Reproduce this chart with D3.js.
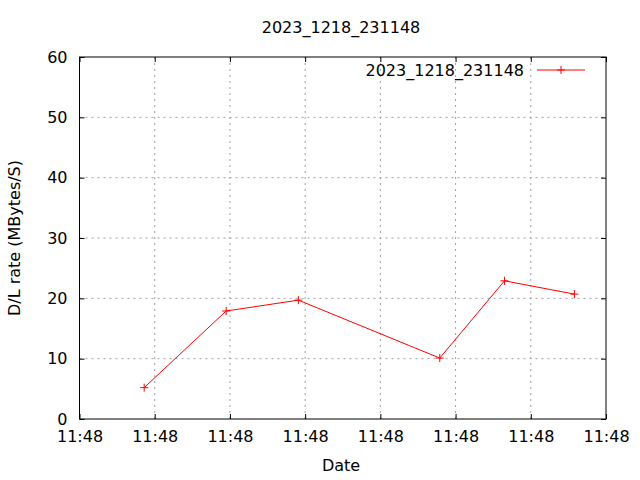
<!DOCTYPE html>
<html><head><meta charset="utf-8">
<script src="https://cdn.jsdelivr.net/npm/d3@7"></script>
<style>body{margin:0;background:#fff}svg{display:block}text{font-family:"DejaVu Sans",sans-serif;font-size:16px;fill:#000}</style>
</head><body><svg id="c" width="640" height="480"></svg>
<script>
const title = "2023_1218_231148";
const seriesName = "2023_1218_231148";
const xLabel = "Date";
const yLabel = "D/L rate (MBytes/S)";
// times in seconds after 11:48:00
const times = [0.86, 1.95, 2.91, 4.79, 5.65, 6.58];
const rates = [5.2, 17.9, 19.7, 10.1, 22.9, 20.7];
const xTickSeconds = [0, 1, 2, 3, 4, 5, 6, 7];
const yTicks = [0, 10, 20, 30, 40, 50, 60];

const base = new Date(2023, 11, 18, 11, 48, 0);
const toDate = s => new Date(base.getTime() + s * 1000);
const data = times.map((t, i) => ({t: toDate(t), v: rates[i]}));

const svg = d3.select("#c");
const L = 79.5, R = 606, T = 57, B = 419;
const x = d3.scaleTime().domain([toDate(0), toDate(7)]).range([L, R]);
const y = d3.scaleLinear().domain([0, 60]).range([B, T]);
const fmt = d3.timeFormat("%H:%M");

// grid
const g = svg.append("g");
xTickSeconds.slice(1, -1).forEach(s => {
  g.append("line").attr("x1", x(toDate(s))).attr("x2", x(toDate(s))).attr("y1", T).attr("y2", B)
    .attr("stroke", "#a0a0a0").attr("stroke-width", 1).attr("stroke-dasharray", "2,4");
});
yTicks.slice(1, -1).forEach(v => {
  g.append("line").attr("x1", L).attr("x2", R).attr("y1", y(v)).attr("y2", y(v))
    .attr("stroke", "#a0a0a0").attr("stroke-width", 1).attr("stroke-dasharray", "2,4");
});

// axes with inward ticks
const xb = d3.axisBottom(x).tickValues(xTickSeconds.map(toDate)).tickFormat(fmt).tickSizeInner(-5).tickSizeOuter(0).tickPadding(12);
const xt = d3.axisTop(x).tickValues(xTickSeconds.map(toDate)).tickFormat("").tickSizeInner(-5).tickSizeOuter(0);
const yl = d3.axisLeft(y).tickValues(yTicks).tickSizeInner(-5).tickSizeOuter(0).tickPadding(12);
const yr = d3.axisRight(y).tickValues(yTicks).tickFormat("").tickSizeInner(-5).tickSizeOuter(0);
[svg.append("g").attr("transform", `translate(0,${B})`).call(xb),
 svg.append("g").attr("transform", `translate(0,${T})`).call(xt),
 svg.append("g").attr("transform", `translate(${L},0)`).call(yl),
 svg.append("g").attr("transform", `translate(${R},0)`).call(yr)].forEach(a => {
  a.selectAll(".domain").remove();
  a.selectAll("line").attr("stroke", "#000");
  a.selectAll("text").attr("font-family", "DejaVu Sans").attr("font-size", 16).attr("fill", "#000");
});
svg.append("rect").attr("x", L).attr("y", T).attr("width", R - L).attr("height", B - T)
  .attr("fill", "none").attr("stroke", "#000").attr("stroke-width", 1);

// series
svg.append("path").datum(data).attr("fill", "none").attr("stroke", "#ff0000").attr("stroke-width", 1)
  .attr("d", d3.line().x(d => x(d.t)).y(d => y(d.v)));
const plus = (sel, cx, cy) => {
  sel.append("path").attr("d", `M${cx-4},${cy}H${cx+4}M${cx},${cy-4}V${cy+4}`)
    .attr("stroke", "#ff0000").attr("stroke-width", 1).attr("fill", "none");
};
data.forEach(d => plus(svg, x(d.t), y(d.v)));

// legend
svg.append("text").attr("x", 524).attr("y", 76).attr("text-anchor", "end").text(seriesName);
svg.append("line").attr("x1", 537).attr("x2", 585).attr("y1", 70).attr("y2", 70).attr("stroke", "#ff0000");
plus(svg, 561, 70);

// titles
svg.append("text").attr("x", 341).attr("y", 33).attr("text-anchor", "middle").text(title);
svg.append("text").attr("x", 341).attr("y", 471).attr("text-anchor", "middle").text(xLabel);
svg.append("text").attr("transform", "translate(20,238) rotate(-90)").attr("text-anchor", "middle").text(yLabel);
</script></body></html>
